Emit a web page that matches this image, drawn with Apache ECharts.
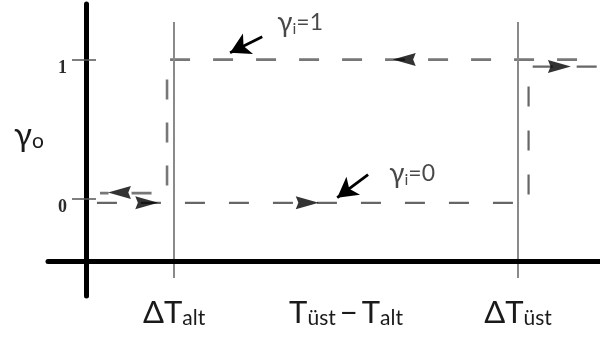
<!DOCTYPE html>
<html>
<head>
<meta charset="utf-8">
<script src="https://cdn.jsdelivr.net/npm/echarts@6/dist/echarts.min.js"></script>
<style>
  html, body { margin: 0; padding: 0; background: #fff; }
  #chart { width: 600px; height: 343px; }
</style>
</head>
<body>
<div id="chart"></div>
<script>
// Switching thresholds on the temperature-difference axis (ΔT_alt, ΔT_üst)
const thresholdValues = [1.0, 4.9];
const xTickValues = [1.0, 2.95, 4.9];
const xTickLabels = [
  '{d|Δ}{t|T}{s|alt}',
  '{t|T}{s|üst}{m|−}{t|T}{s|alt}',
  '{d|Δ}{t|T}{s|üst}'
];
const yTickValues = [0, 1];
const yTickLabels = ['0', '1'];

// Output while the input state is 1 (temperature difference falling)
const upperBranchX = [5.57, 0.92, 0.92, 0.16];
const upperBranchY = [1.0, 1.0, 0.04, 0.04];

// Output while the input state is 0 (temperature difference rising)
const lowerBranchX = [0.125, 5.02, 5.02, 5.83];
const lowerBranchY = [-0.03, -0.03, 0.95, 0.95];

// Direction markers along the branches (heading: -1 left, 1 right)
const markerX = [3.61, 5.37, 0.38, 0.69, 2.51];
const markerY = [1.0, 0.95, 0.045, -0.03, -0.03];
const markerDir = [-1, 1, -1, 1, 1];

// Input-state captions
const stateLabels = ['{g|γ}{i|i}{e|=1}', '{g|γ}{i|i}{e|=0}'];

const FONT = 'Lato, "Noto Sans", "DejaVu Sans", sans-serif';
const TEXT = '#1a1a1a';

// Dart-shaped arrowhead pointing right; turned 180° for leftward travel
const DART = 'path://M0,0L22,6.5L0,13L2.5,6.5Z';

const zip = (xs, ys) => xs.map((x, i) => [x, ys[i]]);

// Caption anchors and pointer arrows, placed in axis units
const captionAnchors = [[2.17, 1.265], [3.44, 0.18]];
const pointerArrows = [
  [[2.0, 1.165], [1.635, 1.05]],
  [[3.2, 0.173], [2.85, 0.007]]
];
const thresholdSpan = [-0.57, 1.27];

const chart = echarts.init(document.getElementById('chart'), null, { renderer: 'canvas' });

const option = {
  animation: false,
  backgroundColor: '#fff',
  grid: { left: 48, right: 0, top: 4, bottom: 47 },
  xAxis: {
    type: 'value',
    min: -0.43,
    max: 5.83,
    offset: -35,
    z: 5,
    axisLine: { show: true, onZero: false, lineStyle: { color: '#000', width: 5 } },
    axisTick: { show: false },
    splitLine: { show: false },
    axisLabel: {
      customValues: xTickValues,
      margin: 36,
      formatter: (v) => {
        const i = xTickValues.findIndex((t) => Math.abs(t - v) < 1e-6);
        return i >= 0 ? xTickLabels[i] : '';
      },
      rich: {
        d: { fontFamily: FONT, fontSize: 31, color: TEXT, lineHeight: 32 },
        t: { fontFamily: FONT, fontSize: 31, color: TEXT, lineHeight: 32 },
        m: { fontFamily: FONT, fontSize: 31, color: TEXT, lineHeight: 32, padding: [0, 4, 0, 4] },
        s: { fontFamily: FONT, fontSize: 21, color: TEXT, lineHeight: 21, verticalAlign: 'bottom' }
      }
    }
  },
  yAxis: [
    {
      type: 'value',
      min: -0.7,
      max: 1.4,
      position: 'left',
      offset: -38,
      z: 5,
      axisLine: { show: true, onZero: false, lineStyle: { color: '#000', width: 5 } },
      axisTick: { show: true, customValues: yTickValues, length: 14, lineStyle: { color: '#555', width: 1.5 } },
      splitLine: { show: false },
      axisLabel: {
        customValues: yTickValues,
        margin: 19,
        verticalAlign: 'top',
        fontFamily: '"Liberation Serif", serif',
        fontWeight: 'bold',
        fontSize: 18,
        lineHeight: 18,
        color: '#2a2a2a',
        formatter: (v) => {
          const i = yTickValues.indexOf(v);
          return i >= 0 ? yTickLabels[i] : '';
        }
      },
      name: '{g|γ}{o|o}',
      nameLocation: 'middle',
      nameGap: 57,
      nameRotate: 0,
      nameTextStyle: {
        align: 'center',
        verticalAlign: 'middle',
        padding: [0, 0, 30, 0],
        rich: {
          g: { fontFamily: FONT, fontSize: 33, color: TEXT, lineHeight: 33 },
          o: { fontFamily: FONT, fontSize: 21, color: TEXT, lineHeight: 21, verticalAlign: 'bottom' }
        }
      }
    },
    {
      type: 'value',
      min: -0.7,
      max: 1.4,
      position: 'left',
      offset: -38,
      z: 5,
      axisLine: { show: false },
      axisTick: { show: true, inside: true, customValues: yTickValues, length: 10, lineStyle: { color: '#555', width: 1.5 } },
      axisLabel: { show: false },
      splitLine: { show: false }
    }
  ],
  series: [
    {
      name: 'thresholds',
      type: 'line',
      data: [],
      silent: true,
      z: 1,
      markLine: {
        silent: true,
        symbol: ['none', 'none'],
        label: { show: false },
        lineStyle: { color: '#8a8a8a', width: 2, type: 'solid' },
        data: thresholdValues.map((t) => [
          { coord: [t, thresholdSpan[0]] },
          { coord: [t, thresholdSpan[1]] }
        ])
      }
    },
    {
      name: 'γi=1',
      type: 'line',
      data: zip(upperBranchX, upperBranchY),
      symbol: 'none',
      silent: true,
      z: 2,
      lineStyle: { color: '#777', width: 2.6, type: [20, 23] }
    },
    {
      name: 'γi=0',
      type: 'line',
      data: zip(lowerBranchX, lowerBranchY),
      symbol: 'none',
      silent: true,
      z: 2,
      lineStyle: { color: '#666', width: 2.2, type: [20, 24] }
    },
    {
      name: 'direction',
      type: 'scatter',
      silent: true,
      z: 3,
      symbol: DART,
      symbolSize: [23, 13],
      itemStyle: { color: '#000' },
      data: markerX.map((x, i) => ({
        value: [x, markerY[i]],
        symbolRotate: markerDir[i] < 0 ? 180 : 0
      }))
    },
    {
      name: 'pointers',
      type: 'line',
      data: [],
      silent: true,
      z: 3,
      markLine: {
        silent: true,
        symbol: ['none', 'arrow'],
        symbolSize: [17, 20],
        label: { show: false },
        lineStyle: { color: '#000', width: 2.8, type: 'solid' },
        data: pointerArrows.map((p) => [{ coord: p[0] }, { coord: p[1] }])
      }
    },
    {
      name: 'captions',
      type: 'scatter',
      silent: true,
      z: 4,
      symbolSize: 0,
      data: captionAnchors.map((c, i) => ({ value: c, caption: stateLabels[i] })),
      label: {
        show: true,
        position: 'right',
        distance: 0,
        formatter: (p) => p.data.caption,
        rich: {
          g: { fontFamily: FONT, fontSize: 28, color: TEXT, lineHeight: 28 },
          i: { fontFamily: FONT, fontSize: 16, color: TEXT, lineHeight: 16, verticalAlign: 'bottom' },
          e: { fontFamily: FONT, fontSize: 23, color: TEXT, lineHeight: 28 }
        }
      }
    }
  ]
};

chart.setOption(option);
</script>
</body>
</html>
